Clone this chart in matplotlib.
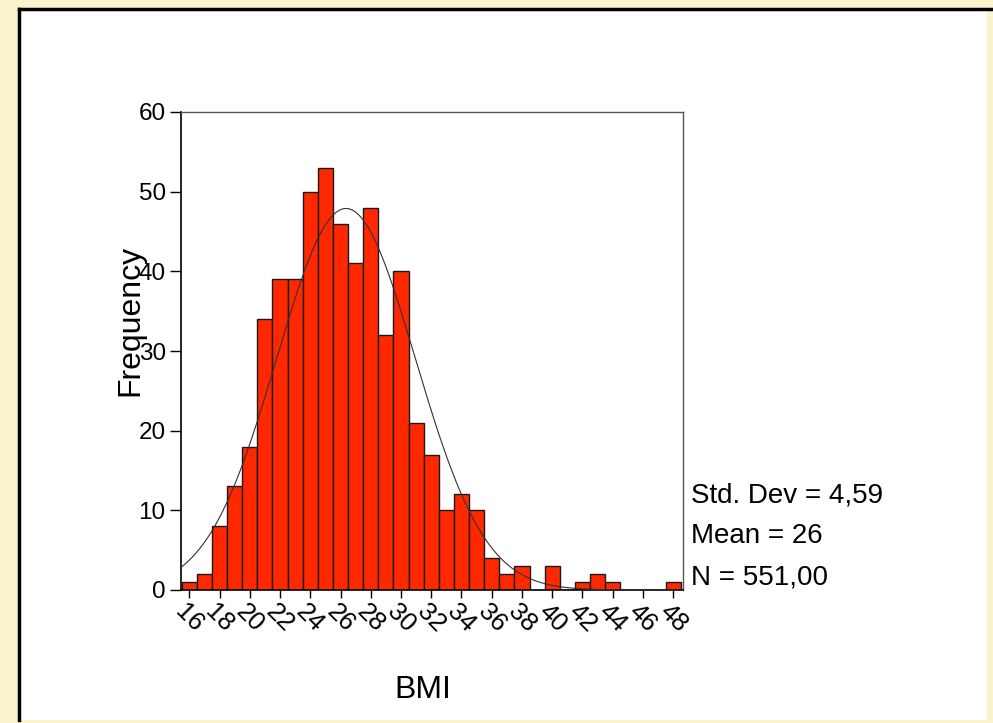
import numpy as np
import matplotlib
matplotlib.use("Agg")
import matplotlib.pyplot as plt
from matplotlib.patches import Rectangle
from matplotlib.lines import Line2D

plt.rcParams['font.family'] = ['Liberation Sans', 'DejaVu Sans']

# BMI histogram (bins of width 1, centred on integers)
bmi_bins = np.arange(16, 49)
counts = [1, 2, 8, 13, 18, 34, 39, 39, 50, 53, 46, 41, 48, 32, 40, 21, 17,
          10, 12, 10, 4, 2, 3, 0, 3, 0, 1, 2, 1, 0, 0, 0, 1]
std_dev = 4.59
n_total = 551
xtick_vals = list(range(16, 49, 2))
ytick_vals = [0, 10, 20, 30, 40, 50, 60]

W, H = 993, 723
fig = plt.figure(figsize=(W / 100, H / 100), dpi=100)
fig.patch.set_facecolor('#FBF3CC')

# white panel with black top/left edge
fig.patches.append(Rectangle((19 / W, 1 - 720 / H), (987 - 19) / W, (720 - 9) / H,
                             transform=fig.transFigure, facecolor='white',
                             edgecolor='none', zorder=-5))
fig.lines.append(Line2D([19 / W, 992 / W], [1 - 9 / H, 1 - 9 / H],
                        transform=fig.transFigure, color='black', lw=2.5, zorder=-4))
fig.lines.append(Line2D([19 / W, 19 / W], [1 - 9 / H, 1 - 720 / H],
                        transform=fig.transFigure, color='black', lw=2.5, zorder=-4))

ax = fig.add_axes([181 / W, 1 - 590 / H, (683 - 181) / W, (590 - 112) / H])
ax.set_zorder(2)
ax.set_facecolor('white')

ax.bar(bmi_bins, counts, width=1.0, color='#FF2800', edgecolor='#1a1a1a',
       linewidth=1.0, zorder=2)

# normal curve
mean = np.sum(bmi_bins * np.array(counts)) / np.sum(counts)
xs = np.linspace(15.45, 48.65, 400)
ys = n_total / (std_dev * np.sqrt(2 * np.pi)) * np.exp(-0.5 * ((xs - mean) / std_dev) ** 2)
ax.plot(xs, ys, color='#333333', lw=0.8, zorder=3)

ax.set_xlim(15.45, 48.65)
ax.set_ylim(0, 60)
ax.set_xticks(xtick_vals)
ax.set_xticklabels([str(v) for v in xtick_vals], rotation=-45, ha='center', va='top',
                   fontsize=18.5)
ax.set_yticks(ytick_vals)
ax.set_yticklabels([str(v) for v in ytick_vals], fontsize=17.5)
ax.tick_params(axis='y', length=8, width=1, pad=3)
ax.tick_params(axis='x', length=6, width=1, pad=1)

for s in ['left', 'bottom']:
    ax.spines[s].set_color('black')
    ax.spines[s].set_linewidth(1.2)
for s in ['top', 'right']:
    ax.spines[s].set_color('#555555')
    ax.spines[s].set_linewidth(1.0)

fig.text(130 / W, 1 - 320 / H, 'Frequency', rotation=90, ha='center', va='center',
         fontsize=23)
fig.text(423 / W, 1 - 690 / H, 'BMI', ha='center', va='center', fontsize=23)

stats = ['Std. Dev = 4,59', 'Mean = 26', 'N = 551,00']
for i, s in enumerate(stats):
    fig.text(691 / W, 1 - (495 + 41 * i) / H, s, ha='left', va='center', fontsize=20)

fig.savefig('out.png', dpi=100, facecolor=fig.get_facecolor())
